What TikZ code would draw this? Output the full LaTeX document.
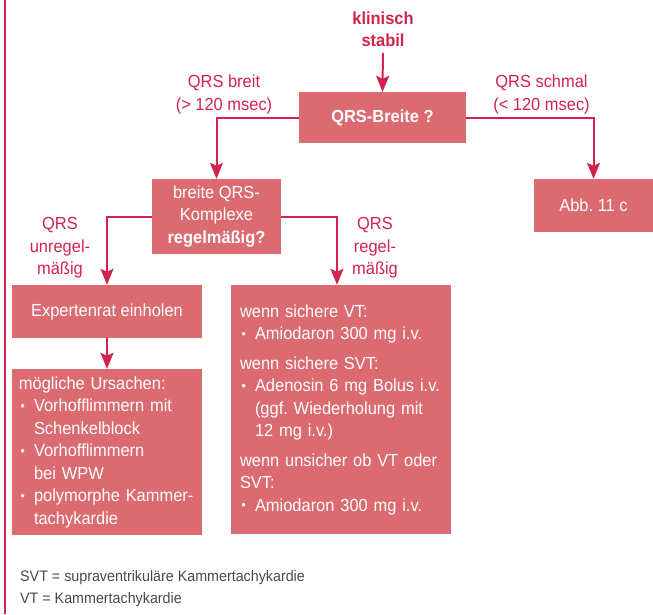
\documentclass[tikz,border=0pt]{standalone}
\usepackage{fontspec}
\setmainfont[FakeStretch=0.94]{Liberation Sans}
\usetikzlibrary{arrows.meta}
\frenchspacing

\definecolor{crim}{HTML}{D2234F}
\definecolor{boxfill}{HTML}{DB6B71}
\definecolor{notegray}{HTML}{4A4A4A}

\newcommand\fs{\fontsize{17.5}{22.5}\selectfont}
\newcommand\bl{\makebox[15pt][l]{\hspace{1.5pt}{\fontsize{13}{13}\selectfont\raisebox{1.5pt}{•}}}}
\newcommand\ind{\hspace*{15pt}}

\tikzset{
  every node/.style={font=\fs, inner sep=0pt},
  box/.style n args={2}{fill=boxfill, text=white, minimum width=#1, minimum height=#2},
  lbl/.style={text=crim, align=center},
  arr/.style={draw=crim, line width=2pt, -{Stealth[length=16pt,width=13pt,inset=3pt]}},
  note/.style={text=notegray, font=\fontsize{15.2}{18}\selectfont, anchor=base west}
}

\begin{document}
\begin{tikzpicture}[x=1pt,y=-1pt]
\useasboundingbox (0,0) rectangle (653,614);

% margin rule
\draw[crim, line width=1.5pt] (5,0) -- (5,614);

% start
\node[lbl, font=\fs\bfseries] (klin) at (383,29) {klinisch\\stabil};

% boxes
\node[box={167}{51}, font=\fs\bfseries] (qrs) at (382.5,117.5) {QRS-Breite ?};
\node[box={129}{75}, align=center] (breite) at (216.5,216.5)
  {breite QRS-\\Komplexe\\\textbf{regelmäßig?}};
\node[box={119}{53}] (abb) at (593.5,205.5) {Abb. 11 c};
\node[box={190}{53}] (expert) at (107,311.5) {Expertenrat einholen};
\node[box={190}{166}, text width=176, align=left] (urs) at (107,452)
  {mögliche Ursachen:\\
   \bl Vorhofflimmern mit\\
   \ind Schenkelblock\\
   \bl Vorhofflimmern\\
   \ind bei WPW\\
   \bl polymorphe Kammer-\\
   \ind tachykardie};
\node[box={220}{249}, text width=202, align=left] (therapie) at (341,409.5)
  {wenn sichere VT:\\
   \bl Amiodaron 300 mg i.v.\\[7pt]
   wenn sichere SVT:\\
   \bl Adenosin 6 mg Bolus i.v.\\
   \ind (ggf. Wiederholung mit\\
   \ind 12 mg i.v.)\\[7pt]
   wenn unsicher ob VT oder\\
   SVT:\\
   \bl Amiodaron 300 mg i.v.};

% branch labels
\node[lbl] (lbreit) at (224,94.5) {QRS breit\\(> 120 msec)};
\node[lbl] (lschmal) at (541.5,94.5) {QRS schmal\\(< 120 msec)};
\node[lbl] (lunreg) at (60,248) {QRS\\unregel-\\mäßig};
\node[lbl] (lreg) at (375,248) {QRS\\regel-\\mäßig};

% connectors
\draw[arr, shorten <=6pt] (klin.south) -- (qrs.north);
\draw[arr] (qrs.west) -| (breite.north);
\draw[arr] (qrs.east) -| (abb.north);
\draw[arr] (breite.west) -| (expert.north);
\draw[arr] (breite.east) -| ([xshift=-4pt]therapie.north);
\draw[arr] (expert.south) -- (urs.north);

% abbreviations
\node[note] (n1) at (20,581) {SVT = supraventrikuläre Kammertachykardie};
\node[note] (n2) at (20,603) {VT = Kammertachykardie};
\end{tikzpicture}
\end{document}
